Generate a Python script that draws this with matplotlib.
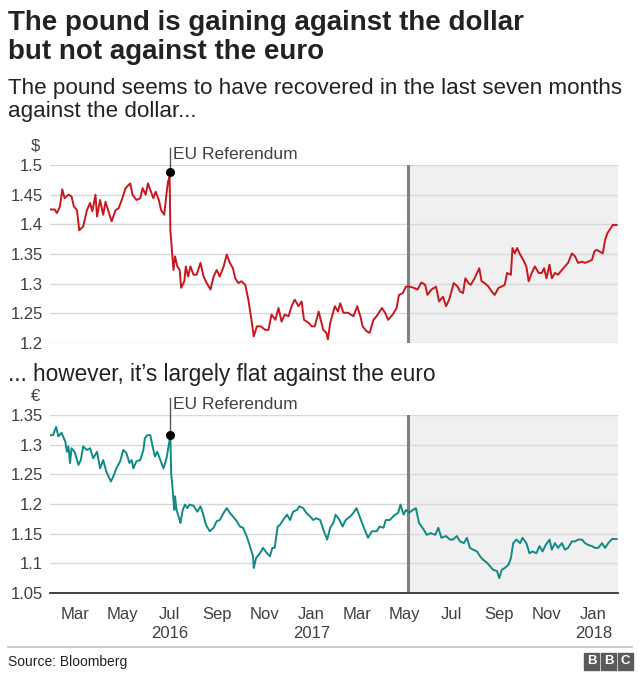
import matplotlib.pyplot as plt
from matplotlib.patches import Rectangle
import numpy as np

plt.rcParams['font.family'] = ['Liberation Sans', 'DejaVu Sans']

start = np.datetime64('2016-01-20')
end_day = 736
referendum_day = 155
marker_day = 464  # grey line where the "last seven months" begins

# GBP/USD, days since start
usd_days = [0, 6, 9, 13, 16, 19, 24, 28, 31, 35, 38, 43, 48, 52, 55, 59, 61, 65, 69, 72,
            76, 80, 85, 89, 93, 98, 104, 107, 112, 117, 120, 124, 127, 130, 134, 137, 141, 144, 148, 151,
            153, 155, 156, 158, 160, 162, 165, 168, 170, 174, 176, 179, 182, 186, 190, 195, 199, 203, 208, 212,
            216, 220, 225, 229, 233, 237, 240, 244, 248, 253, 257, 261, 264, 268, 273, 279, 283, 287, 292, 296,
            300, 304, 309, 313, 317, 322, 326, 329, 335, 339, 343, 348, 354, 358, 360, 363, 369, 373, 376, 380,
            386, 393, 398, 402, 405, 410, 414, 419, 423, 427, 430, 434, 438, 444, 449, 452, 457, 461, 466, 471,
            476, 481, 486, 489, 494, 500, 504, 509, 513, 517, 523, 528, 531, 535, 538, 542, 545, 550, 556, 559,
            563, 568, 572, 576, 581, 585, 589, 592, 597, 599, 602, 605, 609, 613, 617, 620, 624, 628, 633, 637,
            640, 643, 647, 650, 654, 658, 663, 667, 671, 676, 680, 684, 689, 693, 697, 702, 705, 708, 712, 716,
            719, 722, 725, 729, 734]
usd = [1.425, 1.425, 1.419, 1.430, 1.459, 1.444, 1.450, 1.447, 1.430, 1.424, 1.390, 1.396, 1.424, 1.436, 1.422, 1.450, 1.413, 1.441, 1.416, 1.438,
       1.421, 1.405, 1.424, 1.427, 1.441, 1.461, 1.469, 1.450, 1.441, 1.444, 1.461, 1.450, 1.469, 1.458, 1.444, 1.455, 1.441, 1.424, 1.416, 1.452,
       1.472, 1.480, 1.390, 1.357, 1.323, 1.346, 1.329, 1.323, 1.293, 1.304, 1.329, 1.312, 1.329, 1.315, 1.315, 1.335, 1.312, 1.301, 1.290, 1.312,
       1.323, 1.312, 1.329, 1.349, 1.335, 1.326, 1.309, 1.301, 1.304, 1.298, 1.273, 1.239, 1.211, 1.228, 1.228, 1.222, 1.222, 1.248, 1.239, 1.259,
       1.236, 1.248, 1.245, 1.262, 1.273, 1.262, 1.270, 1.239, 1.234, 1.228, 1.228, 1.253, 1.222, 1.217, 1.206, 1.234, 1.262, 1.253, 1.267, 1.251,
       1.251, 1.245, 1.262, 1.245, 1.228, 1.220, 1.217, 1.239, 1.245, 1.253, 1.259, 1.251, 1.239, 1.248, 1.259, 1.281, 1.284, 1.295, 1.295, 1.293,
       1.290, 1.302, 1.298, 1.281, 1.290, 1.295, 1.270, 1.278, 1.262, 1.273, 1.301, 1.295, 1.287, 1.284, 1.309, 1.301, 1.298, 1.309, 1.326, 1.304,
       1.301, 1.295, 1.287, 1.281, 1.293, 1.295, 1.298, 1.318, 1.315, 1.360, 1.351, 1.360, 1.349, 1.340, 1.329, 1.304, 1.318, 1.329, 1.318, 1.318,
       1.326, 1.309, 1.332, 1.309, 1.318, 1.315, 1.323, 1.329, 1.335, 1.351, 1.346, 1.335, 1.337, 1.335, 1.337, 1.340, 1.354, 1.357, 1.354, 1.351,
       1.374, 1.385, 1.391, 1.399, 1.399]

# GBP/EUR, days since start
eur_days = [0, 4, 8, 11, 15, 20, 22, 24, 26, 28, 32, 37, 40, 43, 48, 52, 56, 61, 65, 69,
            73, 76, 79, 82, 86, 91, 95, 99, 103, 106, 108, 112, 117, 121, 123, 126, 130, 133, 136, 139,
            143, 147, 151, 155, 156, 157, 159, 161, 162, 164, 168, 169, 172, 175, 178, 181, 186, 191, 195, 198,
            202, 207, 212, 216, 220, 225, 229, 233, 237, 242, 246, 250, 255, 259, 263, 264, 267, 272, 276, 281,
            285, 288, 291, 295, 298, 302, 307, 311, 315, 320, 323, 328, 332, 337, 341, 345, 350, 354, 359, 363,
            367, 370, 375, 379, 383, 389, 393, 397, 401, 406, 412, 417, 423, 427, 432, 435, 440, 447, 451, 454,
            458, 461, 465, 470, 474, 478, 484, 488, 493, 499, 503, 507, 513, 518, 522, 527, 531, 536, 540, 544,
            548, 553, 557, 561, 566, 570, 574, 579, 582, 585, 589, 594, 597, 600, 604, 609, 612, 617, 621, 625,
            630, 634, 638, 642, 647, 650, 654, 658, 663, 667, 671, 676, 680, 684, 689, 693, 697, 702, 706, 710,
            715, 719, 723, 728, 734]
eur = [1.316, 1.316, 1.330, 1.314, 1.320, 1.305, 1.288, 1.297, 1.269, 1.294, 1.288, 1.266, 1.274, 1.297, 1.291, 1.294, 1.277, 1.288, 1.260, 1.274,
       1.255, 1.246, 1.238, 1.246, 1.260, 1.272, 1.291, 1.286, 1.269, 1.274, 1.260, 1.272, 1.274, 1.291, 1.311, 1.316, 1.316, 1.297, 1.280, 1.288,
       1.274, 1.260, 1.277, 1.308, 1.314, 1.252, 1.224, 1.190, 1.213, 1.190, 1.173, 1.168, 1.190, 1.199, 1.193, 1.199, 1.197, 1.187, 1.196, 1.185,
       1.165, 1.154, 1.160, 1.171, 1.173, 1.185, 1.193, 1.185, 1.179, 1.171, 1.162, 1.160, 1.145, 1.129, 1.112, 1.092, 1.109, 1.117, 1.126, 1.117,
       1.112, 1.126, 1.126, 1.162, 1.165, 1.173, 1.182, 1.173, 1.187, 1.190, 1.196, 1.193, 1.185, 1.179, 1.173, 1.176, 1.173, 1.157, 1.140, 1.160,
       1.168, 1.182, 1.173, 1.162, 1.173, 1.179, 1.185, 1.193, 1.179, 1.162, 1.143, 1.154, 1.154, 1.162, 1.160, 1.173, 1.173, 1.182, 1.185, 1.199,
       1.182, 1.190, 1.185, 1.190, 1.193, 1.168, 1.157, 1.148, 1.151, 1.148, 1.160, 1.143, 1.146, 1.140, 1.140, 1.146, 1.137, 1.134, 1.143, 1.126,
       1.123, 1.120, 1.112, 1.106, 1.101, 1.095, 1.089, 1.087, 1.075, 1.089, 1.092, 1.098, 1.109, 1.134, 1.140, 1.134, 1.143, 1.134, 1.117, 1.120,
       1.117, 1.129, 1.120, 1.131, 1.140, 1.123, 1.134, 1.126, 1.134, 1.123, 1.126, 1.137, 1.137, 1.140, 1.140, 1.134, 1.131, 1.129, 1.126, 1.126,
       1.134, 1.126, 1.134, 1.141, 1.141]

usd_ticks = [1.2, 1.25, 1.3, 1.35, 1.4, 1.45, 1.5]
usd_labels = ['1.2', '1.25', '1.3', '1.35', '1.4', '1.45', '1.5']
eur_ticks = [1.05, 1.1, 1.15, 1.2, 1.25, 1.3, 1.35]
eur_labels = ['1.05', '1.1', '1.15', '1.2', '1.25', '1.3', '1.35']
month_ticks = ['2016-03', '2016-05', '2016-07', '2016-09', '2016-11', '2017-01',
               '2017-03', '2017-05', '2017-07', '2017-09', '2017-11', '2018-01']
month_labels = ['Mar', 'May', 'Jul\n2016', 'Sep', 'Nov', 'Jan\n2017',
                'Mar', 'May', 'Jul', 'Sep', 'Nov', 'Jan\n2018']

RED = '#c8171e'
TEAL = '#108a84'
GRID = '#d8d8d8'
TXT = '#404040'
DARK = '#222222'

fig = plt.figure(figsize=(6.4, 6.77), dpi=100)
H = 677.0

def fy(px):
    return 1 - px / H

fig.text(0.0125, fy(30), 'The pound is gaining against the dollar', fontsize=20,
         fontweight='bold', color=DARK, va='baseline')
fig.text(0.0125, fy(59), 'but not against the euro', fontsize=20,
         fontweight='bold', color=DARK, va='baseline')
fig.text(0.0125, fy(94), 'The pound seems to have recovered in the last seven months',
         fontsize=16.1, color=DARK, va='baseline')
fig.text(0.0125, fy(117), 'against the dollar...', fontsize=16.1, color=DARK, va='baseline')
fig.text(0.0125, fy(381), '... however, it\u2019s largely flat against the euro',
         fontsize=16.3, color=DARK, va='baseline')

ax1 = fig.add_axes([0.078, 0.4934, 0.888, 0.2629])
ax2 = fig.add_axes([0.078, 0.1241, 0.888, 0.2629])

panels = [
    (ax1, usd_days, usd, RED, usd_ticks, usd_labels, (1.2, 1.5), '$'),
    (ax2, eur_days, eur, TEAL, eur_ticks, eur_labels, (1.05, 1.35), '\u20ac'),
]

for ax, days, vals, col, ticks, labels, ylim, unit in panels:
    d = start + np.array(days).astype('timedelta64[D]')
    ax.axvspan(start + np.timedelta64(marker_day, 'D'), start + np.timedelta64(end_day, 'D'),
               color='#f0f0f0', zorder=0, lw=0)
    ax.set_xlim(start, start + np.timedelta64(end_day, 'D'))
    ax.set_ylim(*ylim)
    ax.set_yticks(ticks)
    ax.set_yticklabels(labels)
    ax.grid(axis='y', color=GRID, lw=1.0, zorder=1)
    ax.set_axisbelow(True)
    for s in ax.spines.values():
        s.set_visible(False)
    ax.tick_params(axis='both', length=0, labelsize=12, labelcolor=TXT, pad=5)
    ax.axvline(start + np.timedelta64(marker_day, 'D'), color='#808080', lw=2.2, zorder=2)
    ax.plot(d, vals, color=col, lw=1.4, zorder=3)
    ax.text(-0.018, 1.105, unit, transform=ax.transAxes, ha='right', va='center',
            fontsize=12, color=TXT)

    # referendum marker
    i = days.index(referendum_day)
    rx = start + np.timedelta64(referendum_day, 'D')
    ry = vals[i] + 0.008
    top = ylim[1] + 0.029
    ax.plot([rx, rx], [ry, top], color='#555555', lw=1, clip_on=False, zorder=4)
    ax.plot([rx], [ry], 'o', color='black', ms=5.5, clip_on=False, zorder=5)
    ax.text(rx + np.timedelta64(4, 'D'), ylim[1] + 0.018, 'EU Referendum', fontsize=12.5,
            color=TXT, va='center', ha='left')

ax1.set_xticks([])
ax2.spines['bottom'].set_visible(True)
ax2.spines['bottom'].set_color('#333333')
ax2.spines['bottom'].set_linewidth(1.3)
tick_pos = [np.datetime64(m + '-01') - np.timedelta64(8, 'D') for m in month_ticks]
ax2.set_xticks(tick_pos)
ax2.set_xticklabels(month_labels, linespacing=1.35)
ax2.tick_params(axis='x', pad=10)

# footer
fig.add_artist(plt.Line2D([0.0125, 0.9875], [fy(647), fy(647)], color='#c0c0c0', lw=1.2))
fig.text(0.0125, fy(662), 'Source: Bloomberg', fontsize=10, color=DARK, va='center')
for k, letter in enumerate('BBC'):
    x0 = 0.9125 + k * 0.0265
    fig.add_artist(Rectangle((x0, fy(670)), 0.0235, 17 / H, color='#5a5a5a',
                             transform=fig.transFigure))
    fig.text(x0 + 0.01175, fy(661.5), letter, fontsize=9.5, fontweight='bold', color='white',
             ha='center', va='center')

fig.savefig('out.png', dpi=100)
